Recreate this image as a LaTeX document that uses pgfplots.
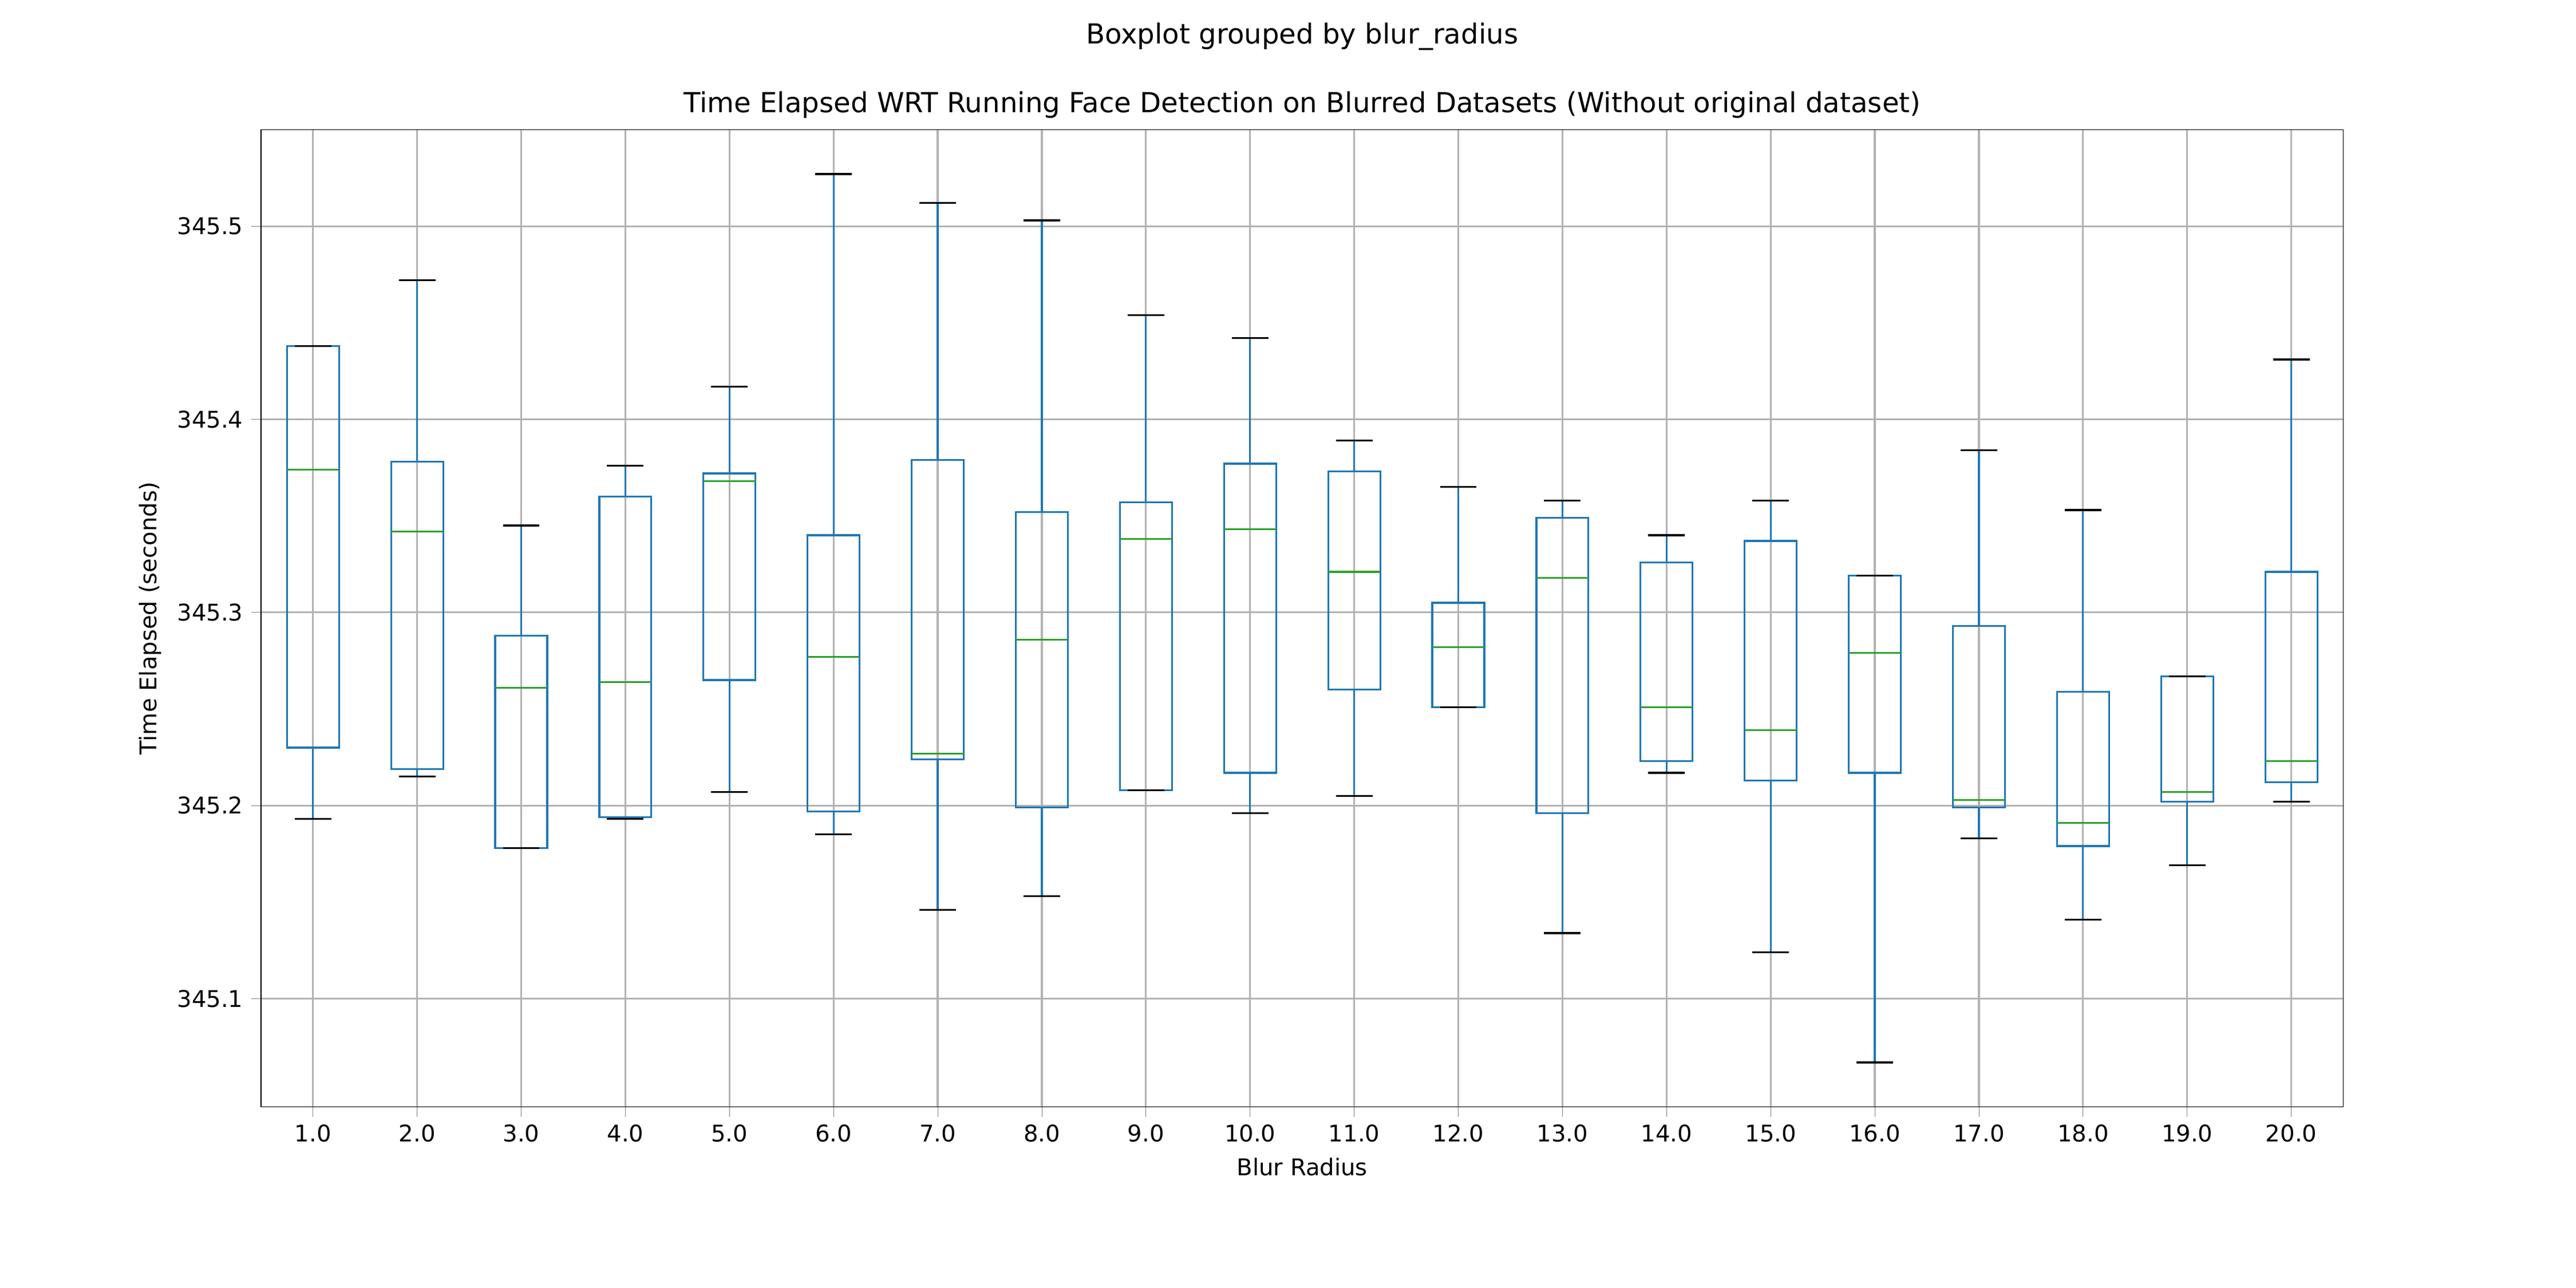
\documentclass[border=0pt]{standalone}
\usepackage{pgfplots}
\pgfplotsset{compat=1.18}
\usepgfplotslibrary{statistics}
\usepackage{fontspec}
\setmainfont{DejaVu Sans}
\definecolor{mblue}{HTML}{1F77B4}
\definecolor{mgreen}{HTML}{2CA02C}
\begin{document}
\begin{tikzpicture}
\useasboundingbox (-1.57in,-1.09in) rectangle (13.93in,6.66in);
\begin{axis}[
  scale only axis, width=12.53in, height=5.88in,
  xmin=0.5, xmax=20.5, ymin=345.044, ymax=345.55,
  xtick={1,...,20},
  xticklabels={1.0,2.0,3.0,4.0,5.0,6.0,7.0,8.0,9.0,10.0,11.0,12.0,13.0,14.0,15.0,16.0,17.0,18.0,19.0,20.0},
  ytick={345.1,345.2,345.3,345.4,345.5},
  yticklabel style={/pgf/number format/fixed,/pgf/number format/precision=1,/pgf/number format/fixed zerofill},
  /pgf/number format/assume math mode=true,
  tick label style={font=\fontsize{10}{12}\selectfont},
  label style={font=\fontsize{10}{12}\selectfont},
  xlabel={Blur Radius}, ylabel={Time Elapsed (seconds)},
  grid=major, major grid style={gray!60, line width=0.8pt},
  tick align=outside, tick pos=left,
  boxplot/draw direction=y,
  boxplot/box extend=0.5,
  boxplot/whisker extend=0,
  boxplot/every median/.style={mgreen, line width=0.8pt},
  clip=false,
]
\node at (rel axis cs:0.5,1.0255) {\fontsize{12}{14}\selectfont Time Elapsed WRT Running Face Detection on Blurred Datasets (Without original dataset)};
\node at (rel axis cs:0.5,1.095) {\fontsize{12}{14}\selectfont Boxplot grouped by blur\_radius};
\newcommand\bx[6]{\addplot[mblue, line width=0.8pt, boxplot prepared={draw position=#1, lower whisker=#2, lower quartile=#3, median=#4, upper quartile=#5, upper whisker=#6}] coordinates {};}
\bx{1}{345.193}{345.230}{345.374}{345.438}{345.438}
\bx{2}{345.215}{345.219}{345.342}{345.378}{345.472}
\bx{3}{345.178}{345.178}{345.261}{345.288}{345.345}
\bx{4}{345.193}{345.194}{345.264}{345.360}{345.376}
\bx{5}{345.207}{345.265}{345.368}{345.372}{345.417}
\bx{6}{345.185}{345.197}{345.277}{345.340}{345.527}
\bx{7}{345.146}{345.224}{345.227}{345.379}{345.512}
\bx{8}{345.153}{345.199}{345.286}{345.352}{345.503}
\bx{9}{345.208}{345.208}{345.338}{345.357}{345.454}
\bx{10}{345.196}{345.217}{345.343}{345.377}{345.442}
\bx{11}{345.205}{345.260}{345.321}{345.373}{345.389}
\bx{12}{345.251}{345.251}{345.282}{345.305}{345.365}
\bx{13}{345.134}{345.196}{345.318}{345.349}{345.358}
\bx{14}{345.217}{345.223}{345.251}{345.326}{345.340}
\bx{15}{345.124}{345.213}{345.239}{345.337}{345.358}
\bx{16}{345.067}{345.217}{345.279}{345.319}{345.319}
\bx{17}{345.183}{345.199}{345.203}{345.293}{345.384}
\bx{18}{345.141}{345.179}{345.191}{345.259}{345.353}
\bx{19}{345.169}{345.202}{345.207}{345.267}{345.267}
\bx{20}{345.202}{345.212}{345.223}{345.321}{345.431}
\addplot[only marks, mark=-, mark size=0.11in, mark options={black, line width=0.8pt}] coordinates {
(1,345.193)(1,345.438)(2,345.215)(2,345.472)(3,345.178)(3,345.345)(4,345.193)(4,345.376)
(5,345.207)(5,345.417)(6,345.185)(6,345.527)(7,345.146)(7,345.512)(8,345.153)(8,345.503)
(9,345.208)(9,345.454)(10,345.196)(10,345.442)(11,345.205)(11,345.389)(12,345.251)(12,345.365)
(13,345.134)(13,345.358)(14,345.217)(14,345.340)(15,345.124)(15,345.358)(16,345.067)(16,345.319)
(17,345.183)(17,345.384)(18,345.141)(18,345.353)(19,345.169)(19,345.267)(20,345.202)(20,345.431)};
\end{axis}
\end{tikzpicture}
\end{document}
